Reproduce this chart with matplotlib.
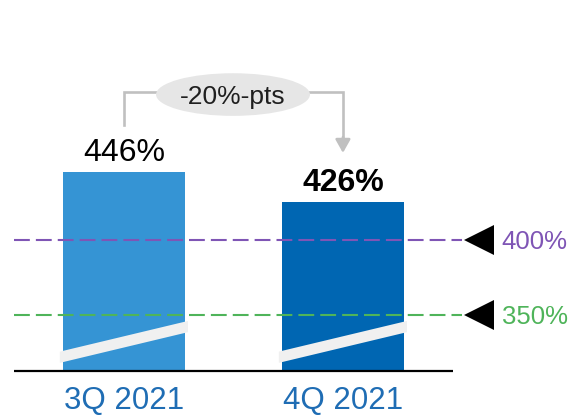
import matplotlib
matplotlib.use("Agg")
import matplotlib.pyplot as plt
import numpy as np
from matplotlib.patches import Ellipse

# ---------------------------------------------------------------------------
# Data
# ---------------------------------------------------------------------------
quarters = ["3Q 2021", "4Q 2021"]
ratios = [446, 426]
bar_labels = ["446%", "426%"]
label_bold = [False, True]
change_label = "-20%-pts"
thresholds = [400, 350]
threshold_labels = ["400%", "350%"]

# ---------------------------------------------------------------------------
# Style
# ---------------------------------------------------------------------------
BAR_COLORS = ["#3594d4", "#0066b2"]
THRESH_COLORS = ["#7f55b5", "#4fb45a"]
TICK_COLOR = "#1f6db4"
BRACKET_COLOR = "#c0c0c0"
BREAK_COLOR = "#f0f0f0"
Y_FLOOR = 313  # axis is broken: bars start here

plt.rcParams["font.family"] = ["Liberation Sans", "DejaVu Sans"]

fig = plt.figure(figsize=(5.72, 4.18), dpi=100)
ax = fig.add_axes([0, 0, 1, 1])
ax.set_xlim(-0.566, 2.046)
ax.set_ylim(281.3, 560.7)
ax.axis("off")

x = np.arange(len(quarters))
width = 0.557
ax.bar(x, [v - Y_FLOOR for v in ratios], bottom=Y_FLOOR, width=width,
       color=BAR_COLORS, zorder=2)

# axis-break bands across each bar
for xi in x:
    bx = np.array([xi - 0.295, xi + 0.29])
    lo = np.array([318.5, 339.0])
    ax.fill_between(bx, lo, lo + 7.5, color=BREAK_COLOR, linewidth=0, zorder=3)

# baseline
ax.plot([-0.502, 1.502], [Y_FLOOR, Y_FLOOR], color="black", lw=1.6,
        solid_capstyle="butt", zorder=4)

# threshold lines with markers and labels
for val, lab, col in zip(thresholds, threshold_labels, THRESH_COLORS):
    ax.plot([-0.502, 1.545], [val, val], color=col, lw=1.5,
            dashes=(7.6, 2.9), zorder=4)
    ax.plot([1.62], [val], marker="<", color="black", ms=21,
            markeredgewidth=0, zorder=4)
    ax.text(1.725, val - 5.6, lab, color=col, fontsize=18.5,
            ha="left", va="baseline")

# value labels
for xi, v, lab, bold in zip(x, ratios, bar_labels, label_bold):
    ax.text(xi, v + 7, lab, fontsize=23, ha="center", va="baseline",
            fontweight="bold" if bold else "normal", color="black")

# category labels
for xi, q in zip(x, quarters):
    ax.text(xi, 287.3, q, fontsize=22.5, ha="center", va="baseline",
            color=TICK_COLOR)

# change bracket
y_top = 499
ax.plot([0, 0, 0.16], [477, y_top, y_top], color=BRACKET_COLOR, lw=1.9,
        solid_joinstyle="miter", zorder=1)
ax.plot([0.84, 1.0, 1.0], [y_top, y_top, 467], color=BRACKET_COLOR, lw=1.9,
        solid_joinstyle="miter", zorder=1)
ax.annotate("", xy=(1.0, 458.5), xytext=(1.0, 469),
            arrowprops=dict(arrowstyle="-|>,head_width=0.45,head_length=0.8",
                            color=BRACKET_COLOR, lw=1.9, shrinkA=0, shrinkB=0))
ax.add_patch(Ellipse((0.498, 497.5), 0.703, 28.5, facecolor="#e6e6e6",
                     edgecolor="none", zorder=2))
ax.text(0.498, 497.5 - 6.0, change_label, fontsize=19, ha="center",
        va="baseline", color="#1f1f1f", zorder=3)

fig.savefig("out.png", dpi=100)
